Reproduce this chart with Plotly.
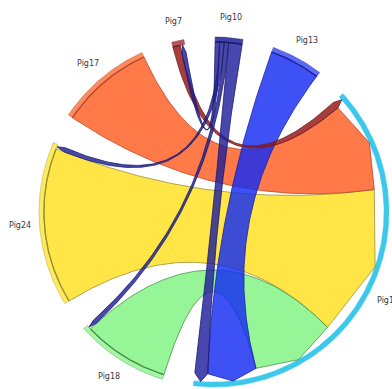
import numpy as np
import plotly.graph_objects as go

# Nodes around the circle, counter-clockwise starting from Pig15
nodes = ["Pig15", "Pig13", "Pig10", "Pig7", "Pig17", "Pig24", "Pig18"]

# Directed links: source -> target with flow value
link_source = ["Pig24", "Pig17", "Pig18", "Pig13", "Pig7", "Pig10", "Pig10", "Pig10", "Pig10"]
link_target = ["Pig15", "Pig15", "Pig15", "Pig15", "Pig15", "Pig15", "Pig18", "Pig24", "Pig7"]
link_value = [52.5, 31.5, 29.0, 17.0, 2.5, 4.5, 1.5, 1.5, 1.5]

# ---- styling -------------------------------------------------------------
fill_rgb = {
    "Pig15": (60, 200, 235),
    "Pig13": (18, 43, 243),
    "Pig10": (30, 30, 155),
    "Pig7": (149, 18, 18),
    "Pig17": (255, 89, 26),
    "Pig24": (255, 224, 24),
    "Pig18": (124, 242, 124),
}
edge_rgb = {
    "Pig15": (60, 200, 235),
    "Pig13": (30, 30, 150),
    "Pig10": (25, 25, 100),
    "Pig7": (110, 30, 30),
    "Pig17": (175, 70, 40),
    "Pig24": (150, 140, 50),
    "Pig18": (70, 140, 70),
}

START = -96.8          # angle where the first arc begins (degrees)
GAP = 10.3             # gap between neighbouring arcs (degrees)
R_OUT, R_IN = 1.0, 0.972
R_END, R_TIP = 0.925, 0.972
R_LABEL = 1.114

# order of the link ends inside each arc, counter-clockwise
end_order = {
    "Pig15": ["Pig10", "Pig13", "Pig18", "Pig24", "Pig17", "Pig7"],
    "Pig13": ["Pig15"],
    "Pig10": ["Pig15", "Pig18", "Pig24", "Pig7"],
    "Pig7": ["Pig10", "Pig15"],
    "Pig17": ["Pig15"],
    "Pig24": ["Pig10", "Pig15"],
    "Pig18": ["Pig10", "Pig15"],
}


def rgba(c, a):
    return f"rgba({c[0]},{c[1]},{c[2]},{a})"


def link_val(a, b):
    for s, t, v in zip(link_source, link_target, link_value):
        if (s == a and t == b) or (s == b and t == a):
            return v
    return 0.0


totals = {n: 0.0 for n in nodes}
for s, t, v in zip(link_source, link_target, link_value):
    totals[s] += v
    totals[t] += v
scale = (360.0 - GAP * len(nodes)) / sum(totals.values())

arc = {}
a = START
for n in nodes:
    arc[n] = (a, a + totals[n] * scale)
    a = arc[n][1] + GAP

span = {}
for n in nodes:
    a = arc[n][0]
    for other in end_order[n]:
        w = link_val(n, other) * scale
        span[(n, other)] = (a, a + w)
        a += w


def pol(r, deg):
    t = np.radians(deg)
    return np.array([r * np.cos(t)]), np.array([r * np.sin(t)])


def arc_xy(r, a0, a1):
    k = int(abs(a1 - a0) / 0.5) + 2
    t = np.radians(np.linspace(a0, a1, k))
    return r * np.cos(t), r * np.sin(t)


def bez(p0, p2, k=90):
    t = np.linspace(0, 1, k)
    x = (1 - t) ** 2 * p0[0] + t ** 2 * p2[0]
    y = (1 - t) ** 2 * p0[1] + t ** 2 * p2[1]
    return x, y


def tip_end(a0, a1):
    xs = [R_END * np.cos(np.radians(a0)), R_TIP * np.cos(np.radians((a0 + a1) / 2)),
          R_END * np.cos(np.radians(a1))]
    ys = [R_END * np.sin(np.radians(a0)), R_TIP * np.sin(np.radians((a0 + a1) / 2)),
          R_END * np.sin(np.radians(a1))]
    return np.array(xs), np.array(ys)


fig = go.Figure()

# ---- ideogram bands --------------------------------------------------------
for n in nodes:
    a0, a1 = arc[n]
    xo, yo = arc_xy(R_OUT, a0, a1)
    xi, yi = arc_xy(R_IN, a1, a0)
    x = np.concatenate([xo, xi, xo[:1]])
    y = np.concatenate([yo, yi, yo[:1]])
    if n == "Pig15":
        fc, lc, lw = rgba(fill_rgb[n], 1.0), rgba(fill_rgb[n], 1.0), 0.5
    elif n == "Pig10":
        fc, lc, lw = rgba(fill_rgb[n], 0.85), rgba(edge_rgb[n], 0.8), 0.6
    else:
        fc, lc, lw = rgba(fill_rgb[n], 0.7), rgba(edge_rgb[n], 0.6), 0.6
    fig.add_trace(go.Scatter(x=x, y=y, mode="lines", fill="toself", fillcolor=fc,
                             line=dict(color=lc, width=lw), hoverinfo="skip"))

# ---- ribbons --------------------------------------------------------------
draw_order = ["Pig24", "Pig17", "Pig18", "Pig13", "Pig7", "Pig10"]
for src in draw_order:
    for s, t, v in zip(link_source, link_target, link_value):
        if s != src:
            continue
        sa0, sa1 = span[(s, t)]
        ta0, ta1 = span[(t, s)]
        xs, ys = arc_xy(R_IN, sa0, sa1)
        xt, yt = tip_end(ta0, ta1)
        x1, y1 = bez((xs[-1], ys[-1]), (xt[0], yt[0]))
        x2, y2 = bez((xt[-1], yt[-1]), (xs[0], ys[0]))
        x = np.concatenate([xs, x1, xt, x2])
        y = np.concatenate([ys, y1, yt, y2])
        alpha = 0.82 if s in ("Pig13", "Pig10", "Pig7") else 0.8
        fig.add_trace(go.Scatter(x=x, y=y, mode="lines", fill="toself",
                                 fillcolor=rgba(fill_rgb[s], alpha),
                                 line=dict(color=rgba(edge_rgb[s], 0.85), width=0.9),
                                 hoverinfo="skip"))
        # darker rim where the ribbon meets its own arc
        fig.add_trace(go.Scatter(x=xs, y=ys, mode="lines",
                                 line=dict(color=rgba(edge_rgb[s], 0.9), width=1.3),
                                 hoverinfo="skip"))

# ---- labels ---------------------------------------------------------------
for n in nodes:
    mid = np.radians(sum(arc[n]) / 2)
    fig.add_annotation(x=R_LABEL * np.cos(mid), y=R_LABEL * np.sin(mid), text=n,
                       showarrow=False, xanchor="center", yanchor="middle",
                       font=dict(family="DejaVu Sans", size=8, color="#3a3a3a"))

PX = 175.0
fig.update_layout(
    width=392, height=389, autosize=False,
    margin=dict(l=0, r=0, t=0, b=0),
    paper_bgcolor="white", plot_bgcolor="white",
    showlegend=False,
    xaxis=dict(range=[-214 / PX, 178 / PX], visible=False, fixedrange=True),
    yaxis=dict(range=[-177 / PX, 212 / PX], visible=False, fixedrange=True),
)

fig.write_html("out.html")
